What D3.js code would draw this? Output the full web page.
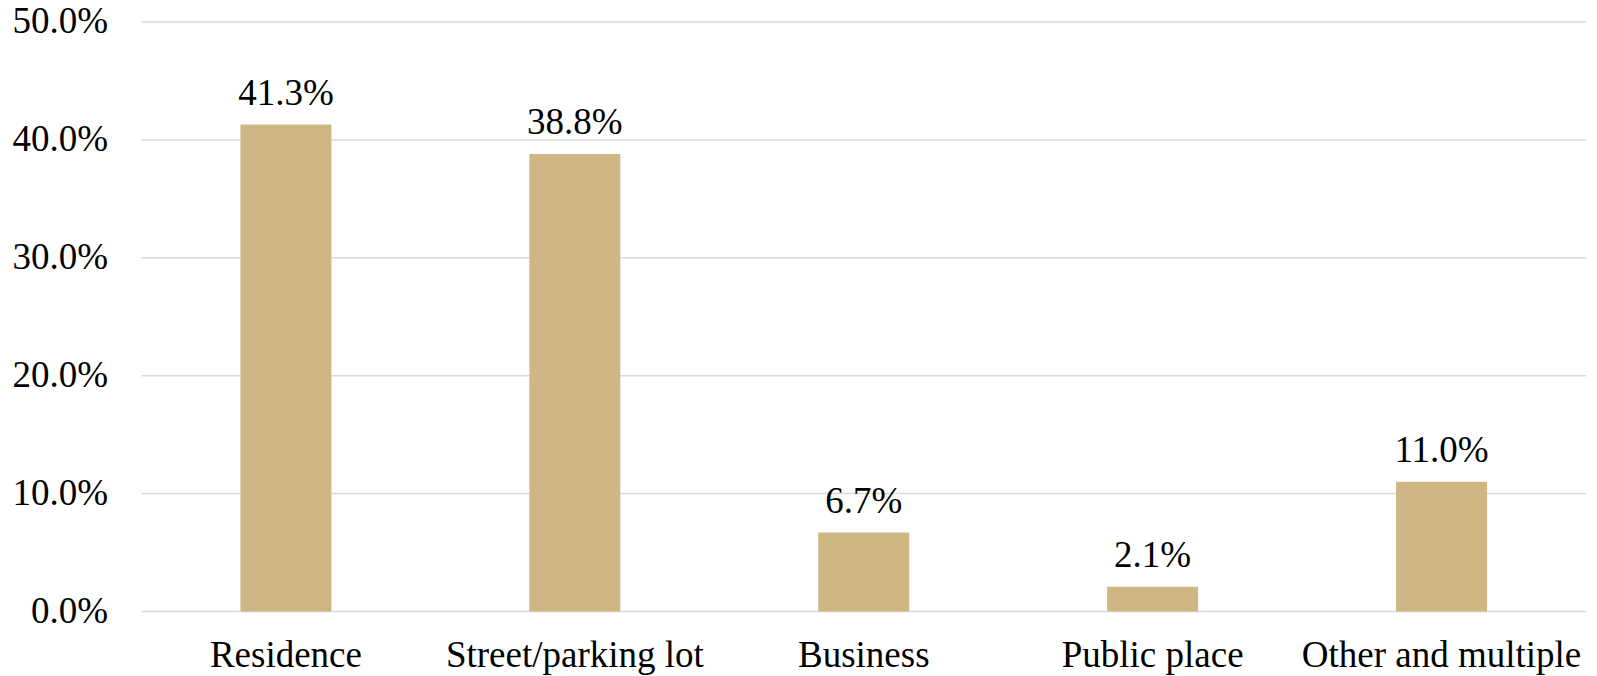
<!DOCTYPE html>
<html lang="en">
<head>
    <meta charset="UTF-8">
    <title>Location</title>
    <script src="https://d3js.org/d3.v7.min.js"></script>
    <style>
        body { margin: 0; background: #fff; }
        text { font-family: "Liberation Serif", "Times New Roman", serif; fill: #000; }
    </style>
</head>
<body>
<div id="chart"></div>

<script>
const categories = ["Residence", "Street/parking lot", "Business", "Public place", "Other and multiple"];
const values = [41.3, 38.8, 6.7, 2.1, 11.0];
const yTicks = [0, 10, 20, 30, 40, 50];

const width = 1597, height = 676;
const margin = {top: 22, right: 11, bottom: 65, left: 141.5};
const fontSize = "37px";

const svg = d3.select("#chart")
    .append("svg")
    .attr("width", width)
    .attr("height", height);

const x = d3.scaleBand()
    .domain(categories)
    .range([margin.left, width - margin.right])
    .padding(0);

const y = d3.scaleLinear()
    .domain([0, 50])
    .range([height - margin.bottom + 0.5, margin.top]);

// gridlines
svg.append("g")
    .selectAll("line")
    .data(yTicks)
    .join("line")
    .attr("x1", margin.left)
    .attr("x2", width - margin.right)
    .attr("y1", d => y(d))
    .attr("y2", d => y(d))
    .style("stroke", "#d9d9d9")
    .style("stroke-width", 1.5);

// y labels
svg.append("g")
    .selectAll("text")
    .data(yTicks)
    .join("text")
    .attr("x", 108)
    .attr("y", d => y(d))
    .attr("dy", "0.3em")
    .attr("text-anchor", "end")
    .style("font-size", fontSize)
    .text(d => d.toFixed(1) + "%");

const barW = x.bandwidth() * 0.315;

svg.append("g")
    .selectAll("rect")
    .data(values)
    .join("rect")
    .attr("x", (d, i) => x(categories[i]) + x.bandwidth() / 2 - barW / 2)
    .attr("y", d => y(d))
    .attr("width", barW)
    .attr("height", d => y(0) - y(d))
    .style("fill", "#cfb784");

// value labels
svg.append("g")
    .selectAll("text")
    .data(values)
    .join("text")
    .attr("x", (d, i) => x(categories[i]) + x.bandwidth() / 2)
    .attr("y", d => y(d) - 20)
    .attr("text-anchor", "middle")
    .style("font-size", fontSize)
    .text(d => d.toFixed(1) + "%");

// category labels
svg.append("g")
    .selectAll("text")
    .data(categories)
    .join("text")
    .attr("x", d => x(d) + x.bandwidth() / 2)
    .attr("y", 667)
    .attr("text-anchor", "middle")
    .style("font-size", fontSize)
    .text(d => d);
</script>
</body>
</html>
